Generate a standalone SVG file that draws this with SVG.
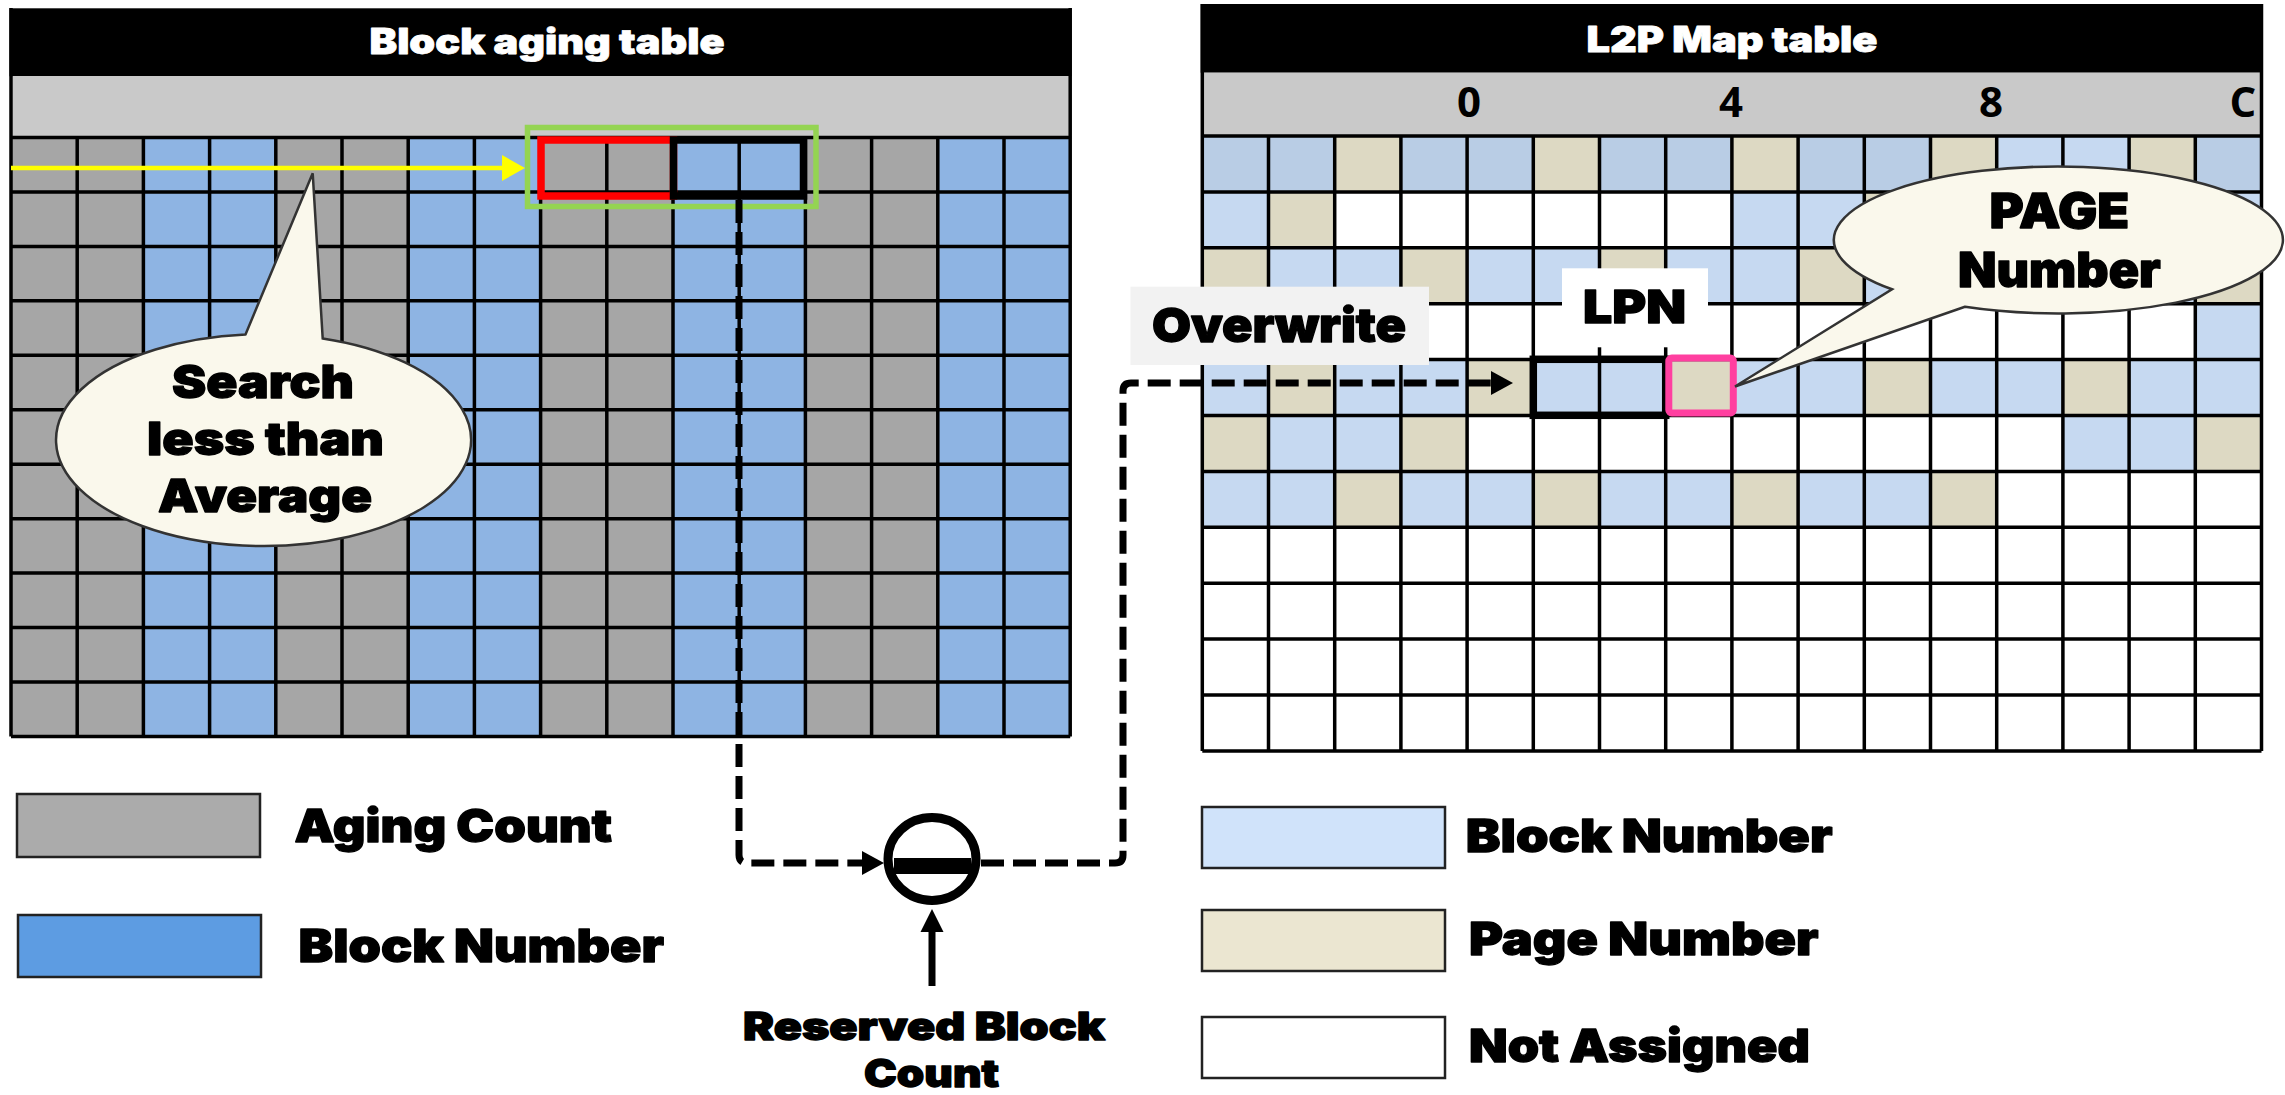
<svg xmlns="http://www.w3.org/2000/svg" width="2285" height="1095" viewBox="0 0 2285 1095">
  <style>
    .hv { font-family: Inter, "Liberation Sans", Arial, sans-serif; font-weight: 900; fill: #000; stroke: #000; stroke-width: 1.3; stroke-linejoin: round; }
    .ttl { font-size: 35px; fill: #fff; stroke: #fff; stroke-width: 0.8; text-anchor: middle; }
    .lbl { font-size: 46px; }
    .mid { text-anchor: middle; }
    .idx { font-family: "Open Sans", "Liberation Sans", sans-serif; font-weight: 700; font-size: 42px; text-anchor: middle; fill: #000; }
    .grid { fill: none; stroke: #000; stroke-width: 3.5; }
    .gy { fill: #A6A6A6; }
    .bu { fill: #8EB4E3; }
    .bd { fill: #B9CDE5; }
    .bl { fill: #C6D9F1; }
    .pg { fill: #DDD9C3; }
    .hdr { fill: #C9C9C9; }
    .call { fill: #FAF8EC; stroke: #333; stroke-width: 2.5; stroke-linejoin: miter; }
    .dash { fill: none; stroke: #000; stroke-width: 7; stroke-dasharray: 23 9; stroke-linejoin: round; }
    .key { stroke: #222; stroke-width: 2.5; }
  </style>
  <defs>
    <marker id="head" viewBox="0 0 22 24" refX="0" refY="12" markerWidth="22" markerHeight="24" markerUnits="userSpaceOnUse" orient="auto">
      <path d="M0,0 L22,12 L0,24 z" fill="#000"/>
    </marker>
  </defs>

  <rect width="2285" height="1095" fill="#fff"/>

  <!-- Block aging table -->
  <g id="block-aging-table">
    <rect x="9.5" y="8.3" width="1062" height="68" fill="#000"/>
    <text class="hv ttl" x="547" y="53.5" textLength="355" lengthAdjust="spacingAndGlyphs">Block aging table</text>
    <rect class="hdr" x="12.5" y="76" width="1057.7" height="61.5"/>
    <!-- columns alternate two grey (aging count) and two blue (block number) -->
    <rect class="gy" x="11" y="137.5" width="1059.2" height="599"/>
    <rect class="bu" x="143.4" y="137.5" width="132.4" height="599"/>
    <rect class="bu" x="408.2" y="137.5" width="132.4" height="599"/>
    <rect class="bu" x="673" y="137.5" width="132.4" height="599"/>
    <rect class="bu" x="937.8" y="137.5" width="132.4" height="599"/>
    <path class="grid" d="M11 8V736.5M77.2 137.5V736.5M143.4 137.5V736.5M209.6 137.5V736.5M275.8 137.5V736.5M342 137.5V736.5M408.2 137.5V736.5M474.4 137.5V736.5M540.6 137.5V736.5M606.8 137.5V736.5M673 137.5V736.5M739.2 137.5V736.5M805.4 137.5V736.5M871.6 137.5V736.5M937.8 137.5V736.5M1004 137.5V736.5M1070.2 8V736.5
      M11 137.5H1070.2M11 191.95H1070.2M11 246.4H1070.2M11 300.85H1070.2M11 355.3H1070.2M11 409.75H1070.2M11 464.2H1070.2M11 518.65H1070.2M11 573.1H1070.2M11 627.55H1070.2M11 682H1070.2M11 736.45H1070.2"/>
    <!-- search window -->
    <rect x="541" y="140" width="132.5" height="56" fill="none" stroke="#FF0000" stroke-width="7.5"/>
    <rect x="673.5" y="140" width="130" height="56" fill="none" stroke="#000" stroke-width="7.5"/>
    <rect x="527.5" y="127.5" width="288.5" height="79" fill="none" stroke="#94D452" stroke-width="5.5"/>
  </g>

  <!-- L2P map table -->
  <g id="l2p-map-table">
    <rect x="1200.7" y="4" width="1061.5" height="68.7" fill="#000"/>
    <text class="hv ttl" x="1732" y="51.7" textLength="291" lengthAdjust="spacingAndGlyphs">L2P Map table</text>
    <rect class="hdr" x="1203.5" y="72.7" width="1057" height="63.3"/>
    <text class="idx" x="1469" y="117">0</text>
    <text class="idx" x="1731" y="117">4</text>
    <text class="idx" x="1991" y="117">8</text>
    <text class="idx" x="2243" y="117">C</text>
    <rect x="1202.3" y="136" width="1059.2" height="614.9" fill="#fff"/>
    <!-- row 0 -->
    <rect class="bd" x="1202.3" y="136" width="132.4" height="55.9"/>
    <rect class="pg" x="1334.7" y="136" width="66.2" height="55.9"/>
    <rect class="bd" x="1400.9" y="136" width="132.4" height="55.9"/>
    <rect class="pg" x="1533.3" y="136" width="66.2" height="55.9"/>
    <rect class="bd" x="1599.5" y="136" width="132.4" height="55.9"/>
    <rect class="pg" x="1731.9" y="136" width="66.2" height="55.9"/>
    <rect class="bd" x="1798.1" y="136" width="132.4" height="55.9"/>
    <rect class="pg" x="1930.5" y="136" width="66.2" height="55.9"/>
    <rect class="bl" x="1996.7" y="136" width="132.4" height="55.9"/>
    <rect class="pg" x="2129.1" y="136" width="66.2" height="55.9"/>
    <rect class="bd" x="2195.3" y="136" width="66.2" height="55.9"/>
    <!-- row 1 -->
    <rect class="bl" x="1202.3" y="191.9" width="66.2" height="55.9"/>
    <rect class="pg" x="1268.5" y="191.9" width="66.2" height="55.9"/>
    <rect class="bl" x="1731.9" y="191.9" width="132.4" height="55.9"/>
    <rect class="pg" x="1864.3" y="191.9" width="66.2" height="55.9"/>
    <rect class="bl" x="1930.5" y="191.9" width="132.4" height="55.9"/>
    <rect class="pg" x="2062.9" y="191.9" width="66.2" height="55.9"/>
    <rect class="bl" x="2129.1" y="191.9" width="132.4" height="55.9"/>
    <!-- row 2 -->
    <rect class="pg" x="1202.3" y="247.8" width="66.2" height="55.9"/>
    <rect class="bl" x="1268.5" y="247.8" width="132.4" height="55.9"/>
    <rect class="pg" x="1400.9" y="247.8" width="66.2" height="55.9"/>
    <rect class="bl" x="1467.1" y="247.8" width="132.4" height="55.9"/>
    <rect class="pg" x="1599.5" y="247.8" width="66.2" height="55.9"/>
    <rect class="bl" x="1665.7" y="247.8" width="132.4" height="55.9"/>
    <rect class="pg" x="1798.1" y="247.8" width="66.2" height="55.9"/>
    <rect class="bl" x="1864.3" y="247.8" width="132.4" height="55.9"/>
    <rect class="pg" x="1996.7" y="247.8" width="66.2" height="55.9"/>
    <rect class="bl" x="2062.9" y="247.8" width="132.4" height="55.9"/>
    <rect class="pg" x="2195.3" y="247.8" width="66.2" height="55.9"/>
    <!-- row 3 -->
    <rect class="bl" x="2195.3" y="303.7" width="66.2" height="55.9"/>
    <!-- row 4 -->
    <rect class="bl" x="1202.3" y="359.6" width="66.2" height="55.9"/>
    <rect class="pg" x="1268.5" y="359.6" width="66.2" height="55.9"/>
    <rect class="bl" x="1334.7" y="359.6" width="132.4" height="55.9"/>
    <rect class="pg" x="1467.1" y="359.6" width="66.2" height="55.9"/>
    <rect class="bl" x="1533.3" y="359.6" width="132.4" height="55.9"/>
    <rect class="pg" x="1665.7" y="359.6" width="66.2" height="55.9"/>
    <rect class="bl" x="1731.9" y="359.6" width="132.4" height="55.9"/>
    <rect class="pg" x="1864.3" y="359.6" width="66.2" height="55.9"/>
    <rect class="bl" x="1930.5" y="359.6" width="132.4" height="55.9"/>
    <rect class="pg" x="2062.9" y="359.6" width="66.2" height="55.9"/>
    <rect class="bl" x="2129.1" y="359.6" width="132.4" height="55.9"/>
    <!-- row 5 -->
    <rect class="pg" x="1202.3" y="415.5" width="66.2" height="55.9"/>
    <rect class="bl" x="1268.5" y="415.5" width="132.4" height="55.9"/>
    <rect class="pg" x="1400.9" y="415.5" width="66.2" height="55.9"/>
    <rect class="bl" x="2062.9" y="415.5" width="132.4" height="55.9"/>
    <rect class="pg" x="2195.3" y="415.5" width="66.2" height="55.9"/>
    <!-- row 6 -->
    <rect class="bl" x="1202.3" y="471.4" width="132.4" height="55.9"/>
    <rect class="pg" x="1334.7" y="471.4" width="66.2" height="55.9"/>
    <rect class="bl" x="1400.9" y="471.4" width="132.4" height="55.9"/>
    <rect class="pg" x="1533.3" y="471.4" width="66.2" height="55.9"/>
    <rect class="bl" x="1599.5" y="471.4" width="132.4" height="55.9"/>
    <rect class="pg" x="1731.9" y="471.4" width="66.2" height="55.9"/>
    <rect class="bl" x="1798.1" y="471.4" width="132.4" height="55.9"/>
    <rect class="pg" x="1930.5" y="471.4" width="66.2" height="55.9"/>
    <path class="grid" d="M1202.3 4V751M1268.5 136V751M1334.7 136V751M1400.9 136V751M1467.1 136V751M1533.3 136V751M1599.5 136V751M1665.7 136V751M1731.9 136V751M1798.1 136V751M1864.3 136V751M1930.5 136V751M1996.7 136V751M2062.9 136V751M2129.1 136V751M2195.3 136V751M2261.5 4V751
      M1202.3 136H2261.5M1202.3 191.9H2261.5M1202.3 247.8H2261.5M1202.3 303.7H2261.5M1202.3 359.6H2261.5M1202.3 415.5H2261.5M1202.3 471.4H2261.5M1202.3 527.3H2261.5M1202.3 583.2H2261.5M1202.3 639.1H2261.5M1202.3 695H2261.5M1202.3 750.9H2261.5"/>
    <!-- selected LPN and its page -->
    <rect x="1533.3" y="359.3" width="132.4" height="56" fill="none" stroke="#000" stroke-width="7.5"/>
    <rect x="1668.8" y="358" width="64.5" height="55" rx="3" fill="none" stroke="#FF3FA0" stroke-width="7"/>
  </g>

  <!-- yellow scan arrow -->
  <g id="scan-arrow">
    <line x1="11" y1="168" x2="503" y2="168" stroke="#FFFF00" stroke-width="4.5"/>
    <polygon points="502,155 525,168 502,181" fill="#FFFF00"/>
  </g>

  <g id="search-callout">
    <path class="call" d="M245.5 334.4 L312.7 173.3 L322.7 338.4 A207.5 106 0 1 1 245.5 334.4 Z"/>
    <text class="hv lbl mid" x="263" y="398" textLength="182" lengthAdjust="spacingAndGlyphs">Search</text>
    <text class="hv lbl mid" x="265.5" y="455" textLength="237" lengthAdjust="spacingAndGlyphs">less than</text>
    <text class="hv lbl mid" x="265" y="511.5" textLength="214" lengthAdjust="spacingAndGlyphs">Average</text>
  </g>

  <g id="page-callout">
    <path class="call" d="M1965 306.8 L1735 386.5 L1892 289.3 A224.5 73.5 0 1 1 1965 306.8 Z"/>
    <text class="hv mid" font-size="48" x="2059.4" y="228.3" textLength="139.6" lengthAdjust="spacingAndGlyphs">PAGE</text>
    <text class="hv mid" font-size="48" x="2059.4" y="286.7" textLength="202.7" lengthAdjust="spacingAndGlyphs">Number</text>
  </g>

  <g id="overwrite-label">
    <rect x="1130.5" y="286.7" width="298.5" height="78.3" fill="#F2F2F2"/>
    <text class="hv mid" font-size="47" x="1279" y="341.5" textLength="254" lengthAdjust="spacingAndGlyphs">Overwrite</text>
  </g>

  <g id="lpn-label">
    <rect x="1562" y="268.3" width="146" height="79" fill="#fff"/>
    <text class="hv lbl mid" x="1634.5" y="323.3" textLength="103" lengthAdjust="spacingAndGlyphs">LPN</text>
  </g>

  <!-- connectors -->
  <g id="connectors">
    <path class="dash" d="M739 200 V855 Q739 863 747 863 H862" marker-end="url(#head)"/>
    <path class="dash" d="M981 863 H1115 Q1123 863 1123 855 V391 Q1123 383 1131 383 H1491" marker-end="url(#head)"/>
    <line x1="932" y1="986" x2="932" y2="931" stroke="#000" stroke-width="7"/>
    <polygon points="920.5,932 943.5,932 932,909" fill="#000"/>
  </g>

  <g id="subtract-node">
    <ellipse cx="932" cy="859" rx="44" ry="41.5" fill="#fff" stroke="#000" stroke-width="9"/>
    <rect x="894" y="858" width="77" height="16" fill="#000"/>
  </g>

  <g id="reserved-label">
    <text class="hv mid" font-size="38" x="924" y="1040" textLength="362" lengthAdjust="spacingAndGlyphs">Reserved Block</text>
    <text class="hv mid" font-size="38" x="931.5" y="1087" textLength="135" lengthAdjust="spacingAndGlyphs">Count</text>
  </g>

  <g id="legend-left">
    <rect class="key" x="17" y="794" width="243" height="63" fill="#ABABAB"/>
    <text class="hv lbl" x="294.6" y="841.7" textLength="317.4" lengthAdjust="spacingAndGlyphs">Aging Count</text>
    <rect class="key" x="18" y="915" width="243" height="62" fill="#5D9CE2"/>
    <text class="hv lbl" x="298.5" y="961.7" textLength="365.5" lengthAdjust="spacingAndGlyphs">Block Number</text>
  </g>

  <g id="legend-right">
    <rect class="key" x="1202" y="807" width="243" height="61" fill="#D0E3FA"/>
    <text class="hv lbl" x="1465.8" y="851.7" textLength="366.7" lengthAdjust="spacingAndGlyphs">Block Number</text>
    <rect class="key" x="1202" y="910" width="243" height="61" fill="#EBE6D1"/>
    <text class="hv lbl" x="1469" y="955" textLength="349.5" lengthAdjust="spacingAndGlyphs">Page Number</text>
    <rect class="key" x="1202" y="1017" width="243" height="61" fill="#fff"/>
    <text class="hv lbl" x="1469" y="1061.7" textLength="341" lengthAdjust="spacingAndGlyphs">Not Assigned</text>
  </g>
</svg>
